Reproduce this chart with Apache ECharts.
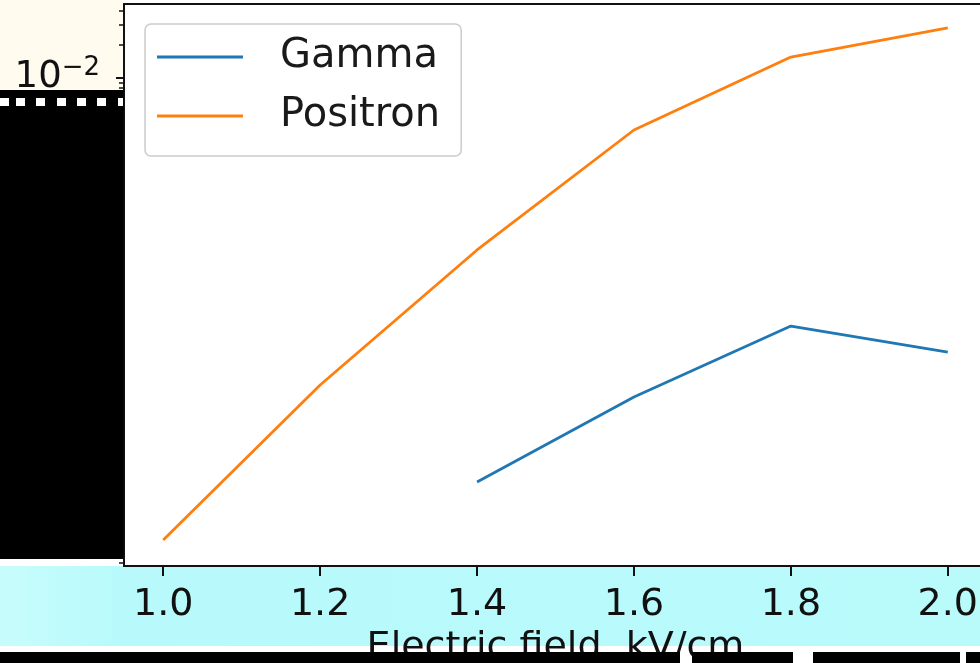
<!DOCTYPE html>
<html>
<head>
<meta charset="utf-8">
<script src="https://cdn.jsdelivr.net/npm/echarts@6/dist/echarts.min.js"></script>
<style>
html,body{margin:0;padding:0;background:#fff;}
#chart{width:980px;height:663px;}
</style>
</head>
<body>
<div id="chart"></div>
<script>
// ---- data ----
const fieldValues = [1.0, 1.2, 1.4, 1.6, 1.8, 2.0];           // Electric field, kV/cm
const gammaValues = [null, null, 2.15e-6, 1.27e-5, 5.58e-5, 3.24e-5];
const positronValues = [6.41e-7, 1.63e-5, 2.73e-4, 3.34e-3, 1.53e-2, 2.81e-2];
const seriesNames = ['Gamma', 'Positron'];
const xTickValues = [1.0, 1.2, 1.4, 1.6, 1.8, 2.0];
const yMajorTicks = [1e-6, 1e-5, 1e-4, 1e-3, 1e-2];
const yMinorMantissas = [2, 3, 4, 5, 6, 7, 8, 9];
const yMinorExponents = [-7, -6, -5, -4, -3, -2];
const xRange = [0.95, 2.05];
const yLogRange = [-6.429, -1.334];

const yMinorTicks = [];
yMinorExponents.forEach(e => yMinorMantissas.forEach(m => yMinorTicks.push(m * Math.pow(10, e))));

const toPairs = vals => fieldValues.map((x, i) => [x, vals[i]]).filter(p => p[1] != null);

const FONT = 'DejaVu Sans';
const chart = echarts.init(document.getElementById('chart'), null, {renderer: 'canvas'});

// decorative overlay blocks (scan artefacts in the reference)
const squares = [0, 16, 36, 57, 77, 97, 118].map(x => ({
  type: 'rect', z: 151, shape: {x: x, y: 98, width: (x === 118 ? 5 : 9), height: 8},
  style: {fill: '#ffffff'}, silent: true
}));
const bottomBlocks = [[0, 680], [692, 101], [813, 147], [966, 14]].map(b => ({
  type: 'rect', z: 200, shape: {x: b[0], y: 652, width: b[1], height: 11},
  style: {fill: '#000000'}, silent: true
}));

const option = {
  backgroundColor: '#ffffff',
  animation: false,
  graphic: {
    elements: [
      {type: 'rect', z: -10, shape: {x: 0, y: 0, width: 124, height: 90}, style: {fill: '#fffbef'}, silent: true},
      {type: 'rect', z: 150, shape: {x: 0, y: 90, width: 123.5, height: 469}, style: {fill: '#000000'}, silent: true},
      {type: 'rect', z: -10, shape: {x: 0, y: 566, width: 980, height: 80},
        style: {fill: new echarts.graphic.LinearGradient(0, 0, 1, 0, [
          {offset: 0, color: '#c8fcfc'}, {offset: 0.12, color: '#b8fafb'}, {offset: 1, color: '#b9fbfb'}])},
        silent: true},
      ...squares,
      ...bottomBlocks
    ]
  },
  grid: {
    left: 124, top: 4, width: 863, height: 562,
    containLabel: false, outerBoundsMode: 'none',
    show: true, backgroundColor: '#ffffff', borderColor: '#111', borderWidth: 2
  },
  legend: {
    orient: 'vertical', left: 145, top: 24,
    padding: [9, 21, 16, 12],
    itemWidth: 86, itemHeight: 3, itemGap: 11,
    backgroundColor: 'rgba(255,255,255,0.85)', borderColor: '#cccccc', borderWidth: 1.5, borderRadius: 6,
    textStyle: {fontFamily: FONT, fontSize: 40, lineHeight: 48, color: '#1a1a1a', padding: [0, 0, 0, 32]},
    data: seriesNames.map(n => ({name: n, icon: 'rect'}))
  },
  xAxis: {
    type: 'value', min: xRange[0], max: xRange[1],
    name: 'Electric field, kV/cm', nameLocation: 'middle', nameGap: 62,
    nameTextStyle: {fontFamily: FONT, fontSize: 38, color: '#111'},
    axisLine: {show: true, lineStyle: {color: '#111', width: 2}},
    axisTick: {show: true, length: 10, lineStyle: {color: '#111', width: 2}, customValues: xTickValues},
    axisLabel: {show: true, margin: 20, fontFamily: FONT, fontSize: 38, color: '#111',
      customValues: xTickValues, formatter: v => v.toFixed(1)},
    splitLine: {show: false}
  },
  yAxis: [
    {
      type: 'log', logBase: 10,
      min: Math.pow(10, yLogRange[0]), max: Math.pow(10, yLogRange[1]),
      axisLine: {show: true, lineStyle: {color: '#111', width: 2}},
      axisTick: {show: true, length: 8, lineStyle: {color: '#111', width: 2}, customValues: yMajorTicks},
      axisLabel: {
        show: true, margin: 24, customValues: yMajorTicks, color: '#111',
        formatter: v => {
          const e = Math.round(Math.log10(v));
          return '{b|10}{s|' + (e < 0 ? '\u2212' + (-e) : e) + '}';
        },
        rich: {
          b: {fontFamily: FONT, fontSize: 37, lineHeight: 44},
          s: {fontFamily: FONT, fontSize: 26, verticalAlign: 'top'}
        }
      },
      splitLine: {show: false}
    },
    {
      type: 'log', logBase: 10,
      min: Math.pow(10, yLogRange[0]), max: Math.pow(10, yLogRange[1]),
      position: 'left',
      axisLine: {show: false},
      axisTick: {show: true, length: 5, lineStyle: {color: '#111', width: 1.5}, customValues: yMinorTicks},
      axisLabel: {show: false},
      splitLine: {show: false}
    }
  ],
  series: [
    {
      name: seriesNames[0], type: 'line', symbol: 'none', yAxisIndex: 0,
      data: toPairs(gammaValues),
      lineStyle: {color: '#1f77b4', width: 2.8}, itemStyle: {color: '#1f77b4'}, z: 3
    },
    {
      name: seriesNames[1], type: 'line', symbol: 'none', yAxisIndex: 0,
      data: toPairs(positronValues),
      lineStyle: {color: '#ff7f0e', width: 2.8}, itemStyle: {color: '#ff7f0e'}, z: 3
    }
  ]
};
chart.setOption(option);
</script>
</body>
</html>
